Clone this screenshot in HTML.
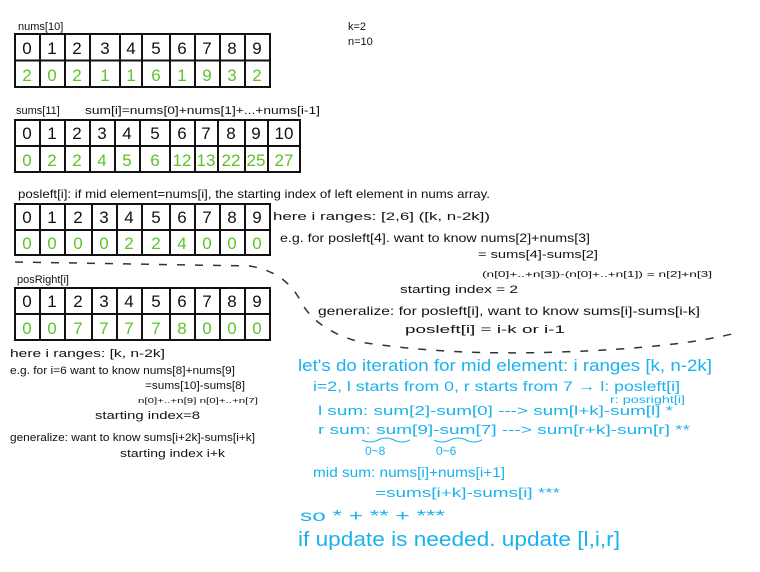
<!DOCTYPE html>
<html><head><meta charset="utf-8"><style>
html,body{margin:0;padding:0;background:#fff;}
svg{display:block}
text{font-family:"Liberation Sans",sans-serif;}
.k{fill:#111}.g{fill:#5cc426}.b{fill:#1ab2ee}
</style></head><body>
<svg width="760" height="572" viewBox="0 0 760 572">
<g stroke="#111" stroke-width="2" fill="none">
<rect x="15" y="34" width="255" height="53"/><line x1="15" y1="60.5" x2="270" y2="60.5"/>
<path d="M40 34V87M65 34V87M90 34V87M120 34V87M142 34V87M170 34V87M195 34V87M220 34V87M245 34V87"/>
<rect x="15" y="120" width="285" height="52"/><line x1="15" y1="146" x2="300" y2="146"/>
<path d="M40 120V172M65 120V172M90 120V172M115 120V172M140 120V172M170 120V172M195 120V172M218 120V172M245 120V172M268 120V172"/>
<rect x="15" y="204" width="255" height="51"/><line x1="15" y1="230" x2="270" y2="230"/>
<path d="M40 204V255M65 204V255M92 204V255M117 204V255M142 204V255M170 204V255M195 204V255M220 204V255M245 204V255"/>
<rect x="15" y="288" width="255" height="52"/><line x1="15" y1="314" x2="270" y2="314"/>
<path d="M40 288V340M65 288V340M92 288V340M117 288V340M142 288V340M170 288V340M195 288V340M220 288V340M245 288V340"/>
</g>
<path d="M15 262 L250 266 Q285 272 300 300 Q315 330 360 342 Q450 356 560 352 Q680 348 740 332" stroke="#333" stroke-width="1.5" fill="none" stroke-dasharray="8 10"/>
<g font-size="17" class="k" text-anchor="middle">
<text x="27" y="54">0</text><text x="52" y="54">1</text><text x="77" y="54">2</text><text x="105" y="54">3</text><text x="131" y="54">4</text><text x="156" y="54">5</text><text x="182" y="54">6</text><text x="207" y="54">7</text><text x="232" y="54">8</text><text x="257" y="54">9</text>
<text x="27" y="139">0</text><text x="52" y="139">1</text><text x="77" y="139">2</text><text x="102" y="139">3</text><text x="127" y="139">4</text><text x="155" y="139">5</text><text x="182" y="139">6</text><text x="206" y="139">7</text><text x="231" y="139">8</text><text x="256" y="139">9</text><text x="284" y="139">10</text>
<text x="27" y="223">0</text><text x="52" y="223">1</text><text x="78" y="223">2</text><text x="104" y="223">3</text><text x="129" y="223">4</text><text x="156" y="223">5</text><text x="182" y="223">6</text><text x="207" y="223">7</text><text x="232" y="223">8</text><text x="257" y="223">9</text>
<text x="27" y="307">0</text><text x="52" y="307">1</text><text x="78" y="307">2</text><text x="104" y="307">3</text><text x="129" y="307">4</text><text x="156" y="307">5</text><text x="182" y="307">6</text><text x="207" y="307">7</text><text x="232" y="307">8</text><text x="257" y="307">9</text>
</g>
<g font-size="17" class="g" text-anchor="middle">
<text x="27" y="81">2</text><text x="52" y="81">0</text><text x="77" y="81">2</text><text x="105" y="81">1</text><text x="131" y="81">1</text><text x="156" y="81">6</text><text x="182" y="81">1</text><text x="207" y="81">9</text><text x="232" y="81">3</text><text x="257" y="81">2</text>
<text x="27" y="166">0</text><text x="52" y="166">2</text><text x="77" y="166">2</text><text x="102" y="166">4</text><text x="127" y="166">5</text><text x="155" y="166">6</text><text x="182" y="166">12</text><text x="206" y="166">13</text><text x="231" y="166">22</text><text x="256" y="166">25</text><text x="284" y="166">27</text>
<text x="27" y="249">0</text><text x="52" y="249">0</text><text x="78" y="249">0</text><text x="104" y="249">0</text><text x="129" y="249">2</text><text x="156" y="249">2</text><text x="182" y="249">4</text><text x="207" y="249">0</text><text x="232" y="249">0</text><text x="257" y="249">0</text>
<text x="27" y="334">0</text><text x="52" y="334">0</text><text x="78" y="334">7</text><text x="104" y="334">7</text><text x="129" y="334">7</text><text x="156" y="334">7</text><text x="182" y="334">8</text><text x="207" y="334">0</text><text x="232" y="334">0</text><text x="257" y="334">0</text>
</g>
<g class="k" font-size="11" lengthAdjust="spacingAndGlyphs">
<text x="18" y="30">nums[10]</text>
<text x="348" y="30">k=2</text><text x="348" y="45">n=10</text>
<text x="16" y="114">sums[11]</text>
<text x="85" y="114" textLength="235" lengthAdjust="spacingAndGlyphs">sum[i]=nums[0]+nums[1]+...+nums[i-1]</text>
<text x="18" y="198" font-size="12" textLength="472" lengthAdjust="spacingAndGlyphs">posleft[i]: if mid element=nums[i], the starting index of left element in nums array.</text>
<text x="17" y="283">posRight[i]</text>
<text x="273" y="220" textLength="217" lengthAdjust="spacingAndGlyphs">here i ranges: [2,6]  ([k, n-2k])</text>
<text x="280" y="242" font-size="12" textLength="310" lengthAdjust="spacingAndGlyphs">e.g. for posleft[4]. want to know nums[2]+nums[3]</text>
<text x="478" y="258" textLength="120" lengthAdjust="spacingAndGlyphs">= sums[4]-sums[2]</text>
<text x="482" y="277" font-size="8" textLength="230" lengthAdjust="spacingAndGlyphs">(n[0]+..+n[3])-(n[0]+..+n[1]) = n[2]+n[3]</text>
<text x="400" y="293" textLength="118" lengthAdjust="spacingAndGlyphs">starting index = 2</text>
<text x="318" y="315" font-size="12" textLength="382" lengthAdjust="spacingAndGlyphs">generalize: for posleft[i], want to know sums[i]-sums[i-k]</text>
<text x="405" y="333" textLength="160" lengthAdjust="spacingAndGlyphs">posleft[i] = i-k    or   i-1</text>
<text x="10" y="357" textLength="155" lengthAdjust="spacingAndGlyphs">here i ranges: [k, n-2k]</text>
<text x="10" y="374" textLength="225" lengthAdjust="spacingAndGlyphs">e.g. for i=6   want to know nums[8]+nums[9]</text>
<text x="145" y="389" textLength="100" lengthAdjust="spacingAndGlyphs">=sums[10]-sums[8]</text>
<text x="138" y="403" font-size="7" textLength="120" lengthAdjust="spacingAndGlyphs">n[0]+..+n[9]      n[0]+..+n[7]</text>
<text x="95" y="419" textLength="105" lengthAdjust="spacingAndGlyphs">starting index=8</text>
<text x="10" y="441" textLength="245" lengthAdjust="spacingAndGlyphs">generalize: want to know sums[i+2k]-sums[i+k]</text>
<text x="120" y="457" textLength="105" lengthAdjust="spacingAndGlyphs">starting index i+k</text>
</g>
<g class="b">
<text x="298" y="371" font-size="17" textLength="414" lengthAdjust="spacingAndGlyphs">let's do iteration for mid element: i ranges [k, n-2k]</text>
<text x="313" y="391" font-size="14" textLength="367" lengthAdjust="spacingAndGlyphs">i=2, l starts from 0, r starts from 7 → l: posleft[i]</text>
<text x="610" y="403" font-size="10" textLength="75" lengthAdjust="spacingAndGlyphs">r: posright[i]</text>
<text x="318" y="415" font-size="13" textLength="355" lengthAdjust="spacingAndGlyphs">l sum: sum[2]-sum[0]  ---&gt;  sum[l+k]-sum[l]  *</text>
<text x="318" y="434" font-size="13" textLength="372" lengthAdjust="spacingAndGlyphs">r sum: sum[9]-sum[7] ---&gt; sum[r+k]-sum[r]  **</text>
<text x="365" y="455" font-size="12">0~8</text><text x="436" y="455" font-size="12">0~6</text>
<text x="313" y="477" font-size="14" textLength="192" lengthAdjust="spacingAndGlyphs">mid sum: nums[i]+nums[i+1]</text>
<text x="375" y="497" font-size="13" textLength="185" lengthAdjust="spacingAndGlyphs">=sums[i+k]-sums[i] ***</text>
<text x="300" y="521" font-size="16" textLength="145" lengthAdjust="spacingAndGlyphs">so * + ** + ***</text>
<text x="298" y="546" font-size="20" textLength="322" lengthAdjust="spacingAndGlyphs">if update is needed. update [l,i,r]</text>
</g>
<path d="M362 440q8 4 16 0t16 0t16 0M434 440q8 4 16 0t16 0t16 0" stroke="#1ab2ee" fill="none"/>
</svg>
</body></html>
